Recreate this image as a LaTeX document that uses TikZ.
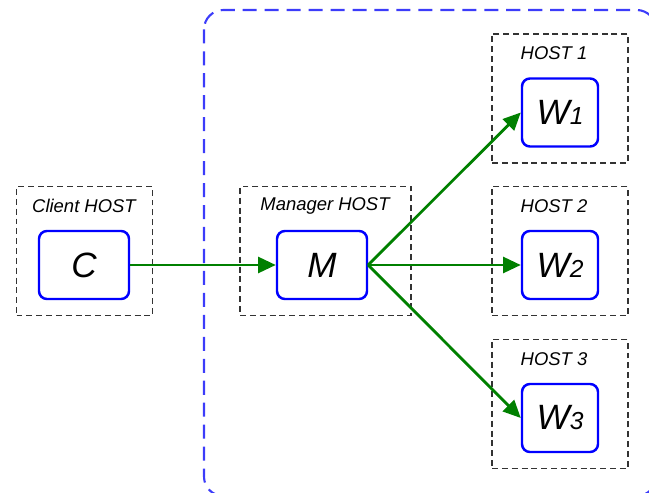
\documentclass[tikz,border=0pt]{standalone}
\usepackage{fontspec}
\setmainfont{Liberation Sans}
\usetikzlibrary{arrows.meta}

\definecolor{lanblue}{RGB}{60,60,250}
\definecolor{linkgreen}{RGB}{0,128,0}

\tikzset{
  host/.style={draw=black!80, line width=1.1pt, dash pattern=on 3.4pt off 2.2pt,
               minimum width=2.72cm, minimum height=2.58cm, inner sep=0pt},
  hostname/.style={font=\fontsize{10.5}{12}\selectfont\itshape, inner sep=0pt},
  proc/.style={draw=blue, line width=1.4pt, rounded corners=4.5pt, fill=white,
               minimum width=1.8cm, minimum height=1.36cm, inner sep=0pt,
               font=\fontsize{20}{22}\selectfont\itshape},
  worker/.style={proc, minimum width=1.52cm},
  link/.style={draw=linkgreen, line width=1.6pt, -{Triangle[length=10pt,width=9pt]}},
}

\newcommand{\wname}[1]{W{\fontsize{14}{16}\selectfont #1}}

\begin{document}
\begin{tikzpicture}[x=0.02cm, y=-0.02cm]
    \useasboundingbox (0,0) rectangle (649,493);
    \clip (0,0) rectangle (649,493);

    % Cluster boundary
    \draw[lanblue, line width=1.2pt, dash pattern=on 8pt off 4.5pt, rounded corners=11pt]
      (204,10) rectangle (656,496);

    % Hosts
    \node[host] (clienthost) at (84.5,251) {};
    \node[hostname] (clientlabel) at (84,206) {Client HOST};
    \node[host, minimum width=3.42cm] (managerhost) at (325.5,251) {};
    \node[hostname] (managerlabel) at (325,206) {Manager HOST};
    \foreach \i/\ypos in {1/98.5, 2/251, 3/404}
    {
      \node[host] (host\i) at (560,\ypos) {};
      \node[hostname] (hostlabel\i) at (554,\ypos-45) {HOST \i};
    };

    % Processes
    \node[proc] (C) at (84,265) {C};
    \node[proc] (M) at (322,265) {M};
    \foreach \i/\ypos in {1/112.5, 2/265, 3/418}
    {
      \node[worker] (W\i) at (560,\ypos) {\wname{\i}};
    };

    % Messages
    \draw[link] (C.east) -- (M.west);
    \foreach \i in {1,2,3}
    {
      \draw[link] (M.east) -- (W\i.west);
    };

\end{tikzpicture}
\end{document}
